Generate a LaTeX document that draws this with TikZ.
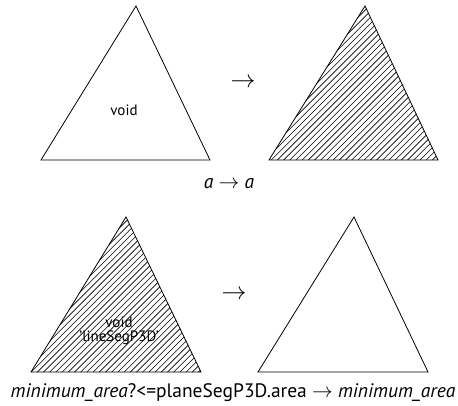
\documentclass[tikz,border=0pt]{standalone}
\usepackage{fontspec}
\setmainfont{PT Sans}
\begin{document}
\begin{tikzpicture}[x=1pt,y=-1pt,
  edge/.style={draw=black,line width=0.8pt,line join=miter},
  hatchline/.style={line width=0.6pt},
  lbl/.style={inner sep=0pt,font=\fontsize{15}{13.5}\selectfont},
  caption/.style={inner sep=0pt,font=\fontsize{19.5}{22}\selectfont},
  bigarrow/.style={inner sep=0pt,font=\fontsize{28}{30}\selectfont}]
\useasboundingbox (0,0) rectangle (458,406);

% triangle corners (apex, base left, base right)
\coordinate (aT) at (136,6);   \coordinate (aL) at (41,160);  \coordinate (aR) at (210,160);
\coordinate (bT) at (365,6);   \coordinate (bL) at (269,160); \coordinate (bR) at (438,160);
\coordinate (cT) at (126,217); \coordinate (cL) at (31,372);  \coordinate (cR) at (201,372);
\coordinate (dT) at (354,217); \coordinate (dL) at (258,372); \coordinate (dR) at (428,372);

% hatch fill of the second and third triangles
\begin{scope}
  \clip (bT) -- (bL) -- (bR) -- cycle;
  \foreach \k in {0,...,65} {
    \draw[hatchline] (100+\k*6.2,170) -- ++(200,-200);
  }
\end{scope}
\begin{scope}
  \clip (cT) -- (cL) -- (cR) -- cycle;
  \foreach \k in {0,...,65} {
    \draw[hatchline] (-140+\k*6.2,382) -- ++(200,-200);
  }
\end{scope}

% outlines
\draw[edge] (aT) -- (aL) -- (aR) -- cycle;
\draw[edge] (bT) -- (bL) -- (bR) -- cycle;
\draw[edge] (cT) -- (cL) -- (cR) -- cycle;
\draw[edge] (dT) -- (dL) -- (dR) -- cycle;

% labels inside triangles
\node[lbl] (voidA) at (124,110) {void};
\node[lbl,align=center] (voidC) at (119,331) {void\\'lineSegP3D'};

% transformation arrows
\node[bigarrow] (arrTop) at (243,83) {$\rightarrow$};
\node[bigarrow] (arrBot) at (234,295) {$\rightarrow$};

% rule captions
\node[caption] (ruleTop) at (229,184) {\textit{a} $\rightarrow$ \textit{a}};
\node[caption] (ruleBot) at (233,393) {\textit{minimum\_area}?<=planeSegP3D.area $\rightarrow$ \textit{minimum\_area}};
\end{tikzpicture}
\end{document}
